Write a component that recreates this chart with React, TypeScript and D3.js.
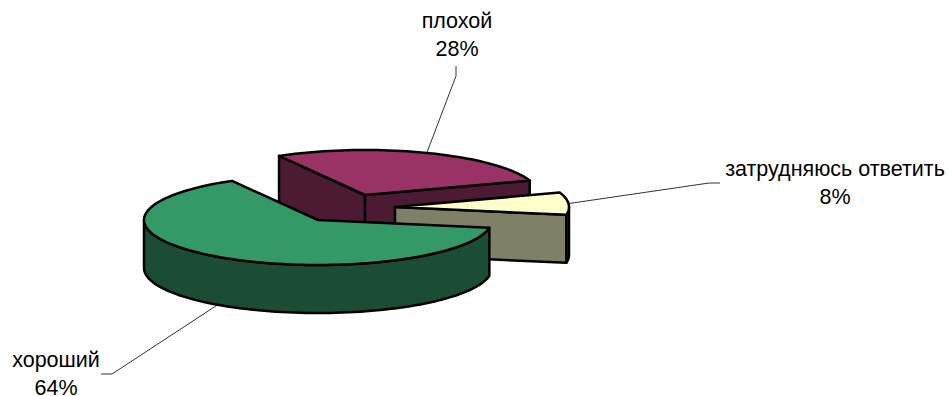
import React from "react";
import * as d3 from "d3";

const labels = ["хороший", "плохой", "затрудняюсь ответить"];
const percents = [64, 28, 8];
const topColors = ["#339966", "#993366", "#FFFFCC"];
const sideColors = ["#1A4D33", "#4D1A33", "#808066"];

// where each exploded slice has its apex
const apexes = [
  [318, 220],
  [365, 195],
  [395, 207],
];
// text centre (first baseline) and the elbow of each leader line
const labelPos = [
  [56, 367],
  [457, 28],
  [835, 176],
];
const leaderEnds = [
  [[112, 374], [101, 374]],
  [[456, 76], [456, 66]],
  [[709, 183], [720, 183]],
];

const rx = 174;
const ry = 45;
const depth = 48;
const rad = Math.PI / 180;

const pie = d3
  .pie<number>()
  .sort(null)
  .startAngle(100 * rad)
  .endAngle(460 * rad);

const lineGen = d3.line();

function project(c: number[], a: number, dy = 0): [number, number] {
  return [c[0] + rx * Math.sin(a), c[1] - ry * Math.cos(a) + dy];
}

function arcPoints(c: number[], a0: number, a1: number, dy = 0) {
  const n = Math.max(2, Math.ceil((a1 - a0) / (2 * rad)));
  return d3.range(n + 1).map((i) => project(c, a0 + ((a1 - a0) * i) / n, dy));
}

function Slice({ c, a0, a1, top, side }: { c: number[]; a0: number; a1: number; top: string; side: string }) {
  const style = { stroke: "#000", strokeWidth: 2.5, strokeLinejoin: "round" as const };
  const turn = a0 >= 2 * Math.PI ? 2 * Math.PI : 0;
  const s = a0 - turn;
  const e = a1 - turn;

  const face = (a: number): [number, number][] => {
    const p = project(c, a);
    return [[c[0], c[1]], p, [p[0], p[1] + depth], [c[0], c[1] + depth]];
  };

  // a cut face shows only when its outward side points down the screen
  const faces: [number, number][][] = [];
  if (Math.sin(s) < 0) faces.push(face(s));
  if (Math.sin(e) > 0) faces.push(face(e));

  // the visible part of the outer wall runs through the front half of the ellipse
  const w0 = Math.max(s, 90 * rad);
  const w1 = Math.min(e, 270 * rad);
  const wall =
    w1 > w0
      ? [...arcPoints(c, w0, w1), ...arcPoints(c, w0, w1, depth).reverse()]
      : null;

  const topPts = [[c[0], c[1]] as [number, number], ...arcPoints(c, s, e)];

  return (
    <g>
      {faces.map((f, i) => (
        <path key={i} d={lineGen(f) + "Z"} fill={side} {...style} />
      ))}
      {wall && <path d={lineGen(wall) + "Z"} fill={side} {...style} />}
      <path d={lineGen(topPts) + "Z"} fill={top} {...style} />
    </g>
  );
}

export default function App() {
  const arcs = pie(percents);
  // back slices first so the big one overlaps them
  const order = [1, 2, 0];

  return (
    <svg
      width={951}
      height={396}
      style={{ position: "absolute", left: 0, top: 0, background: "#fff" }}
      fontFamily="'Liberation Sans', Arial, sans-serif"
      fontSize={21.5}
    >
      {arcs.map((d, i) => {
        const mid = (d.startAngle + d.endAngle) / 2;
        const onWall = Math.cos(mid) < 0;
        const from = project(apexes[i], mid, onWall ? depth : 0);
        return (
          <path
            key={i}
            d={lineGen([from, ...(leaderEnds[i] as [number, number][])]) ?? ""}
            fill="none"
            stroke="#000"
            strokeWidth={0.8}
          />
        );
      })}
      {order.map((i) => (
        <Slice
          key={i}
          c={apexes[i]}
          a0={arcs[i].startAngle}
          a1={arcs[i].endAngle}
          top={topColors[i]}
          side={sideColors[i]}
        />
      ))}
      {labels.map((t, i) => (
        <text key={t} x={labelPos[i][0]} y={labelPos[i][1]} textAnchor="middle" fill="#000">
          <tspan x={labelPos[i][0]}>{t}</tspan>
          <tspan x={labelPos[i][0]} dy={28}>
            {percents[i]}%
          </tspan>
        </text>
      ))}
    </svg>
  );
}
